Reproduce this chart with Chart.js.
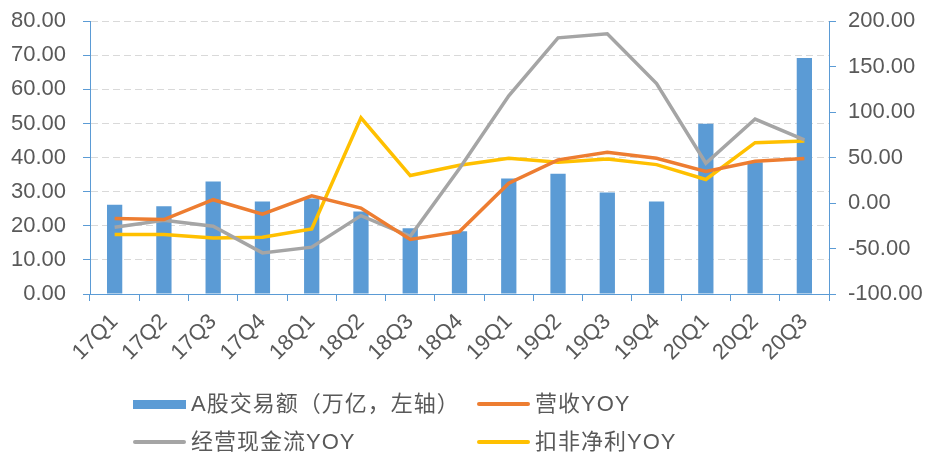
<!DOCTYPE html>
<html>
<head>
<meta charset="utf-8">
<script src="https://cdn.jsdelivr.net/npm/chart.js@4/dist/chart.umd.min.js"></script>
<style>
    html, body { margin: 0; padding: 0; background: #fff; }
    #wrap { position: relative; width: 931px; height: 452px; overflow: hidden; }
    #c { position: absolute; left: 0; top: -9px; }
    #legend { position: absolute; left: 0; top: 0; width: 931px; height: 452px; pointer-events: none;
              font-family: "Liberation Sans", "Noto Sans CJK SC", sans-serif; font-size: 22px; color: #595959; }
    .item { position: absolute; display: flex; align-items: center; height: 30px; line-height: 30px; white-space: nowrap; }
    .mk { display: inline-block; margin-right: 5px; }
    .cjk { letter-spacing: 1px; }
</style>
</head>
<body>
<div id="wrap">
    <canvas id="c" width="931" height="461"></canvas>
    <div id="legend"></div>
</div>
<script>
const categorias = ['17Q1','17Q2','17Q3','17Q4','18Q1','18Q2','18Q3','18Q4','19Q1','19Q2','19Q3','19Q4','20Q1','20Q2','20Q3'];
const volumenA = [26.2, 25.7, 33.0, 27.1, 28.0, 24.2, 19.3, 18.4, 33.9, 35.3, 29.8, 27.1, 49.9, 38.6, 69.2];
const ingresosYoy = [-17.1, -18.2, 3.7, -12.1, 8.0, -5.5, -40.1, -31.4, 21.9, 47.5, 55.8, 49.2, 34.7, 46.0, 48.9];
const flujoCajaYoy = [-26.6, -19.0, -25.5, -54.8, -48.5, -13.8, -36.5, 38.0, 117.9, 181.7, 186.1, 131.4, 43.8, 92.4, 69.4];
const netoYoy = [-34.7, -34.7, -38.3, -37.6, -28.5, 93.8, 30.3, 41.5, 49.2, 44.9, 48.5, 42.3, 25.9, 66.4, 68.3];
const ticksIzq = [0, 10, 20, 30, 40, 50, 60, 70, 80];
const ticksDer = [-100, -50, 0, 50, 100, 150, 200];

const AZUL = '#5b9bd5';
const txt = '#595959';
const fuente = '"Liberation Sans", Arial, sans-serif';

const fixTicks = vals => scale => { scale.ticks = vals.map(v => ({ value: v })); };

const chart = new Chart(document.getElementById('c'), {
    data: {
        labels: categorias,
        datasets: [
            { type: 'bar', label: 'A股交易额（万亿，左轴）', data: volumenA, yAxisID: 'y', backgroundColor: AZUL,
              barPercentage: 0.31, categoryPercentage: 1, order: 2 },
            { type: 'line', label: '营收YOY', data: ingresosYoy, yAxisID: 'y1', borderColor: '#ed7d31', backgroundColor: '#ed7d31',
              borderWidth: 3.5, pointRadius: 0, tension: 0, order: 1 },
            { type: 'line', label: '经营现金流YOY', data: flujoCajaYoy, yAxisID: 'y1', borderColor: '#a5a5a5', backgroundColor: '#a5a5a5',
              borderWidth: 3.5, pointRadius: 0, tension: 0, order: 1 },
            { type: 'line', label: '扣非净利YOY', data: netoYoy, yAxisID: 'y1', borderColor: '#ffc000', backgroundColor: '#ffc000',
              borderWidth: 3.5, pointRadius: 0, tension: 0, order: 1 }
        ]
    },
    options: {
        responsive: false,
        devicePixelRatio: 1,
        animation: false,
        layout: { padding: { top: 10, left: 0, right: 0, bottom: 0 } },
        plugins: { legend: { display: false }, tooltip: { enabled: false } },
        scales: {
            x: {
                offset: true,
                grid: { offset: true, drawOnChartArea: false, drawTicks: true, tickLength: 7, tickColor: AZUL, color: AZUL },
                border: { color: AZUL, width: 1 },
                ticks: { color: txt, font: { family: fuente, size: 22 }, maxRotation: 45, minRotation: 45, padding: 8, autoSkip: false },
                afterFit: s => { s.height = 158; }
            },
            y: {
                position: 'left', min: 0, max: 80,
                afterBuildTicks: fixTicks(ticksIzq),
                grid: { color: '#d9d9d9', lineWidth: 1, tickLength: 7, tickColor: AZUL, tickBorderDash: [] },
                border: { color: AZUL, dash: [7, 4] },
                ticks: { color: txt, font: { family: fuente, size: 22 }, padding: 17, callback: v => Number(v).toFixed(2) },
                afterFit: s => { s.width = 90; }
            },
            y1: {
                position: 'right', min: -100, max: 200,
                afterBuildTicks: fixTicks(ticksDer),
                grid: { drawOnChartArea: false, tickLength: 7, tickColor: AZUL, color: AZUL },
                border: { color: AZUL },
                ticks: { color: txt, font: { family: fuente, size: 22 }, padding: 12, callback: v => Number(v).toFixed(2) },
                afterFit: s => { s.width = 102; }
            }
        }
    }
});

// leyenda en dos columnas, hecha a mano
const pos = [[133, 389], [477, 389], [133, 427], [477, 427]];
const leg = document.getElementById('legend');
chart.data.datasets.forEach((ds, i) => {
    const el = document.createElement('div');
    el.className = 'item';
    el.style.left = pos[i][0] + 'px';
    el.style.top = pos[i][1] + 'px';
    const mk = ds.type === 'bar'
        ? `<span class="mk" style="width:53px;height:9px;background:${ds.backgroundColor}"></span>`
        : `<span class="mk" style="width:53px;height:4px;border-radius:2px;background:${ds.borderColor}"></span>`;
    el.innerHTML = mk + `<span class="cjk">${ds.label}</span>`;
    leg.appendChild(el);
});
</script>
</body>
</html>
